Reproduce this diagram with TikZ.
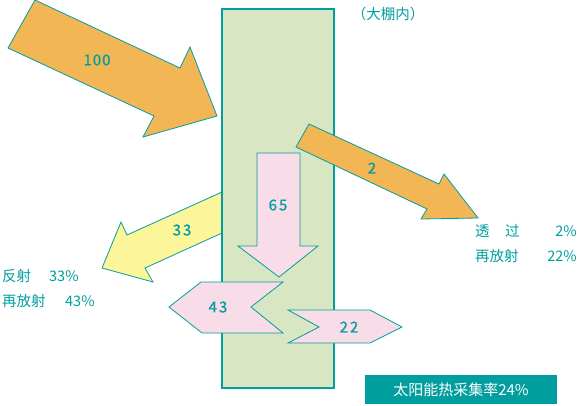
\documentclass[tikz,border=0pt]{standalone}
\usepackage{fontspec}
\setmainfont{Noto Sans CJK SC}
\definecolor{tealline}{RGB}{0,158,158}
\definecolor{boxgreen}{RGB}{216,230,196}
\definecolor{sunorange}{RGB}{242,182,85}
\definecolor{reflyellow}{RGB}{253,245,154}
\definecolor{heatpink}{RGB}{248,221,233}

\begin{document}
\begin{tikzpicture}[x=1pt,y=-1pt,
  flow/.style={draw=tealline,line width=0.8pt,line join=miter},
  num/.style={text=tealline,font=\fontsize{15}{18}\selectfont\addfontfeature{FakeBold=0.8}},
  note/.style={text=tealline,font=\fontsize{14.5}{17}\selectfont,inner sep=0pt}]
\useasboundingbox (0,0) rectangle (578,405);
\filldraw[flow,fill=reflyellow] (222,192) -- (127,235) -- (121,222) -- (102,268) -- (153,282) -- (145,268) -- (222,233) -- cycle; % reflected
\filldraw[draw=tealline,line width=2.5pt,fill=boxgreen] (222,9) rectangle (334,388); % greenhouse
\filldraw[flow,fill=sunorange] (35,0) -- (180,68) -- (190,47) -- (217,116) -- (143,137) -- (154,116) -- (8,48) -- cycle; % incoming sun
\filldraw[flow,fill=heatpink] (257,153) -- (300,153) -- (300,246) -- (318,246) -- (279,277) -- (238,246) -- (257,246) -- cycle; % absorbed
\filldraw[flow,fill=sunorange] (309,124) -- (439,184) -- (444,174) -- (478,218) -- (421,219) -- (427,209) -- (296,147) -- cycle; % transmitted
\filldraw[flow,fill=heatpink] (283,282) -- (251,307) -- (283,333) -- (202,333) -- (169,307) -- (201,282) -- cycle; % re-radiated out
\filldraw[flow,fill=heatpink] (288,310) -- (319,327) -- (288,343) -- (370,343) -- (402,327) -- (370,310) -- cycle; % re-radiated in
\node[num] (in) at (97,60) {1\hspace{1pt}0\hspace{1pt}0};
\node[num] (through) at (372,168) {2};
\node[num] (refl) at (182,230) {3\hspace{2pt}3};
\node[num] (absorb) at (278,205) {6\hspace{2pt}5};
\node[num] (reout) at (218,307) {4\hspace{2pt}3};
\node[num] (rein) at (349,327) {2\hspace{2pt}2};
\node[note] (inside) at (388,14) {（大棚内）};
\node[note,anchor=west] (fanshe) at (2,276) {反射};
\node[note,anchor=west] (fansheval) at (49,276) {33\%};
\node[note,anchor=west] (zaifang) at (2,301) {再放射};
\node[note,anchor=west] (zaifangval) at (65,301) {43\%};
\node[note,anchor=west] (tou) at (475,231) {透};
\node[note,anchor=west] (guo) at (505,231) {过};
\node[note,anchor=east] (touval) at (577,231) {2\%};
\node[note,anchor=west] (zaifang2) at (475,256) {再放射};
\node[note,anchor=east] (zaifang2val) at (577,256) {22\%};
\node[fill=tealline,text=white,font=\fontsize{15}{18}\selectfont,minimum width=192pt,minimum height=29pt,inner sep=0pt] (rate) at (461,389.5) {太阳能热采集率24\%};
\end{tikzpicture}
\end{document}
